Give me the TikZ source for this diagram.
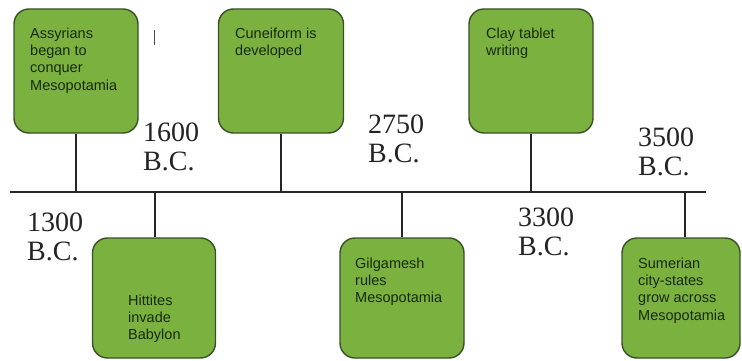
\documentclass[tikz,border=0pt]{standalone}
\usepackage{fontspec}
\setmainfont{Liberation Serif}
\newfontfamily\boxfont{Liberation Sans}
\definecolor{boxgreen}{RGB}{123,177,63}
\definecolor{boxedge}{RGB}{58,80,40}
\definecolor{boxtext}{RGB}{24,42,12}
\definecolor{datetext}{RGB}{35,35,35}
\tikzset{
  eventbox/.style={draw=boxedge, line width=1.4pt, fill=boxgreen, rounded corners=15pt, inner sep=0pt},
  eventtext/.style={anchor=north west, inner sep=0pt, align=left, text=boxtext, font=\boxfont\fontsize{14.5}{17.3}\selectfont},
  datelabel/.style={anchor=north west, inner sep=0pt, align=left, text=datetext, font=\fontsize{28}{29}\selectfont},
  stem/.style={line width=2pt, draw=black!85}
}
\begin{document}
\begin{tikzpicture}[x=1pt,y=-1pt]
\useasboundingbox (0,0) rectangle (742,361);
\fill[white] (0,0) rectangle (742,361);
% timeline
\coordinate (L) at (10,192);
\coordinate (R) at (706,192);
\draw[stem] (L) -- (R);
% upper boxes
\node[eventbox, minimum width=124pt, minimum height=124pt] (b1) at (76,71) {};
\node[eventbox, minimum width=125pt, minimum height=124pt] (b2) at (281,71) {};
\node[eventbox, minimum width=124pt, minimum height=124pt] (b3) at (531,71) {};
% lower boxes
\node[eventbox, minimum width=123pt, minimum height=120pt] (b4) at (154,298) {};
\node[eventbox, minimum width=124pt, minimum height=120pt] (b5) at (402,298) {};
\node[eventbox, minimum width=118pt, minimum height=120pt] (b6) at (681,298) {};
% stems
\draw[stem] (b1.south) -- (b1.south |- L);
\draw[stem] (b2.south) -- (b2.south |- L);
\draw[stem] (b3.south) -- (b3.south |- L);
\draw[stem] ([xshift=1pt]b4.north) -- ([xshift=1pt]b4.north |- L);
\draw[stem] (b5.north) -- (b5.north |- L);
\draw[stem] ([xshift=4pt]b6.north) -- ([xshift=4pt]b6.north |- L);
% box texts
\node[eventtext] (t1) at (30,27.6) {Assyrians\\began to\\conquer\\Mesopotamia};
\node[eventtext] (t2) at (235,27.6) {Cuneiform is\\developed};
\node[eventtext] (t3) at (486,27.6) {Clay tablet\\writing};
\node[eventtext] (t4) at (128,294.6) {Hittites\\invade\\Babylon};
\node[eventtext] (t5) at (355,257.6) {Gilgamesh\\rules\\Mesopotamia};
\node[eventtext] (t6) at (638,257.6) {Sumerian\\city-states\\grow across\\Mesopotamia};
% dates
\node[datelabel] (d1) at (143,123) {1600\\B.C.};
\node[datelabel] (d2) at (368,115) {2750\\B.C.};
\node[datelabel] (d3) at (638,128) {3500\\B.C.};
\node[datelabel] (d4) at (27,213) {1300\\B.C.};
\node[datelabel] (d5) at (518,208) {3300\\B.C.};
% text cursor mark
\draw[line width=1pt, black!70] (154,30) -- (154,45);
\end{tikzpicture}
\end{document}
